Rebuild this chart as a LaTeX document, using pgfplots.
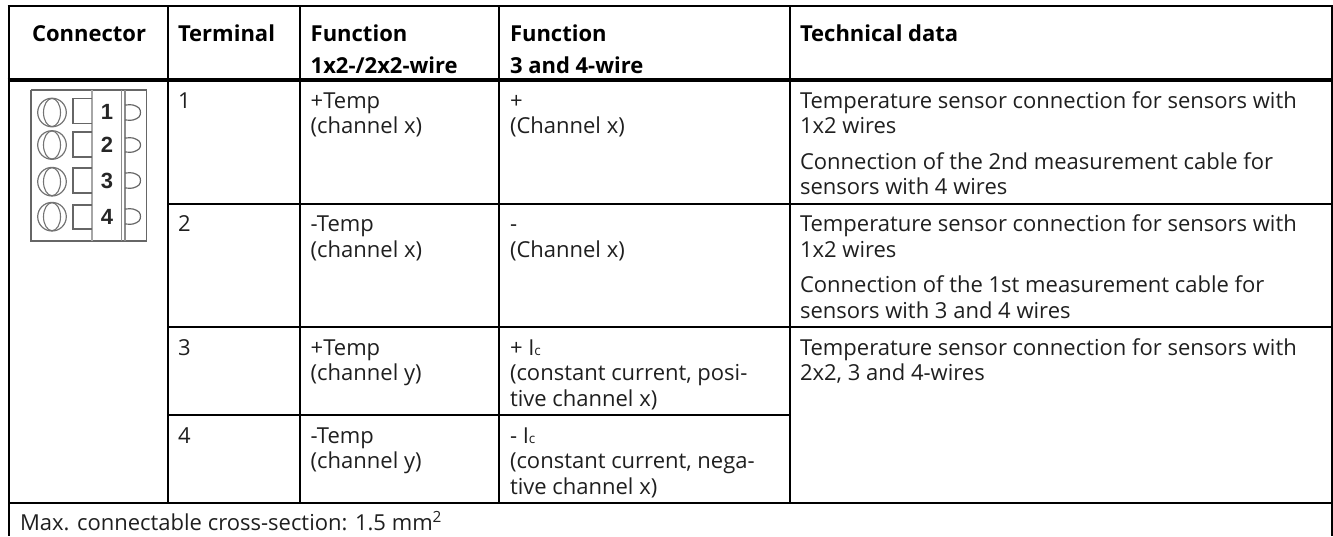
\documentclass[border=0pt]{standalone}
\usepackage{pgfplots}
\pgfplotsset{compat=1.18}
\usepackage{fontspec}
\setmainfont{Open Sans}
\newfontfamily\numfont{Liberation Sans}
\newcommand{\ft}{\fontsize{22}{25.5}\selectfont}
\newcommand{\smc}{{\fontsize{13.5}{13.5}\selectfont c}}
\tikzset{
  rl/.style={black, line width=2pt},
  ic/.style={color=black!60, line width=1.2pt},
  txt/.style={anchor=base west, inner sep=0pt, outer sep=0pt, text=black!88, font=\ft},
  hd/.style={anchor=base west, inner sep=0pt, outer sep=0pt, text=black, font=\ft\bfseries},
  num/.style={anchor=base, inner sep=0pt, outer sep=0pt, text=black!85, font=\numfont\fontsize{22}{22}\selectfont\bfseries},
}
\begin{document}
\begin{tikzpicture}
\path[use as bounding box] (0,0) rectangle (1333pt,536pt);
\begin{axis}[
  at={(0,0)}, anchor=south west,
  scale only axis, width=1333pt, height=536pt,
  xmin=0, xmax=1333, ymin=0, ymax=536, y dir=reverse,
  axis lines=none, clip=true,
  every axis plot/.append style={forget plot},
]
% table rules
\addplot[rl] coordinates {(7.5,6) (1332.7,6)};
\addplot[black, line width=4.5pt] coordinates {(7.5,80) (1332.7,80)};
\addplot[rl] coordinates {(8.5,6) (8.5,536)};
\addplot[rl] coordinates {(1331.7,6) (1331.7,536)};
\addplot[rl] coordinates {(168,6) (168,503)};
\addplot[rl] coordinates {(299.5,6) (299.5,503)};
\addplot[rl] coordinates {(499.3,6) (499.3,503)};
\addplot[rl] coordinates {(790,6) (790,503)};
\addplot[rl] coordinates {(168,204) (1332,204)};
\addplot[rl] coordinates {(168,327) (1332,327)};
\addplot[rl] coordinates {(168,415) (790,415)};
\addplot[rl] coordinates {(8,503) (1332,503)};
% connector icon
\addplot[ic] coordinates {(31,90) (146.7,90) (146.7,241) (31,241) (31,90)};
\addplot[color=black!35, line width=1.6pt] coordinates {(91.7,90) (91.7,241)};
\addplot[color=black!45, line width=1.4pt] coordinates {(121.7,90) (121.7,241)};
\addplot[color=black!45, line width=1.4pt] coordinates {(125,90) (125,241)};
\addplot[ic] coordinates {(91.7,98.7) (73,98.7) (73,123.7) (91.7,123.7)};
\addplot[ic] coordinates {(91.7,132) (73,132) (73,157) (91.7,157)};
\addplot[ic] coordinates {(91.7,168) (73,168) (73,193) (91.7,193)};
\addplot[ic] coordinates {(91.7,205) (73,205) (73,229) (91.7,229)};
\draw[black!55, line width=1.2pt] (axis cs:52,112.5) circle[radius=14.3pt];
\draw[black!55, line width=1.1pt] (axis cs:52,112.5) ellipse[x radius=8.5pt, y radius=14pt];
\draw[black!55, line width=1.2pt] (axis cs:52,145) circle[radius=14.3pt];
\draw[black!55, line width=1.1pt] (axis cs:52,145) ellipse[x radius=8.5pt, y radius=14pt];
\draw[black!55, line width=1.2pt] (axis cs:52,181.7) circle[radius=14.3pt];
\draw[black!55, line width=1.1pt] (axis cs:52,181.7) ellipse[x radius=8.5pt, y radius=14pt];
\draw[black!55, line width=1.2pt] (axis cs:52,216.7) circle[radius=14.3pt];
\draw[black!55, line width=1.1pt] (axis cs:52,216.7) ellipse[x radius=8.5pt, y radius=14pt];
\addplot[ic, smooth] coordinates {(125,105) (133,105) (139,108) (140.5,112.5) (139,117) (133,120) (125,120)};
\addplot[ic, smooth] coordinates {(125,138) (133,138) (139,141) (140.5,145) (139,149) (133,152) (125,152)};
\addplot[ic, smooth] coordinates {(125,173) (133,173) (139,176) (140.5,180.5) (139,185) (133,188) (125,188)};
\addplot[ic, smooth] coordinates {(125,209) (133,209) (139,212) (140.5,216.5) (139,221) (133,224) (125,224)};
\node[num] at (axis cs:107,119.5) {1};
\node[num] at (axis cs:107,152) {2};
\node[num] at (axis cs:107,188) {3};
\node[num] at (axis cs:107,224) {4};
% header
\node[hd] at (axis cs:32,41) {Connector};
\node[hd] at (axis cs:178,41) {Terminal};
\node[hd] at (axis cs:310.7,41) {Function};
\node[hd] at (axis cs:310.7,73) {1x2-/2x2-wire};
\node[hd] at (axis cs:510,41) {Function};
\node[hd] at (axis cs:510,73) {3 and 4-wire};
\node[hd] at (axis cs:800,41) {Technical data};
% rows
\node[txt] at (axis cs:178,108) {1};
\node[txt] at (axis cs:178,231.6) {2};
\node[txt] at (axis cs:178,355) {3};
\node[txt] at (axis cs:178,443) {4};
\node[txt] at (axis cs:310.7,108) {+Temp};
\node[txt] at (axis cs:310.7,133.5) {(channel x)};
\node[txt] at (axis cs:310.7,231.6) {-Temp};
\node[txt] at (axis cs:310.7,257) {(channel x)};
\node[txt] at (axis cs:310.7,355) {+Temp};
\node[txt] at (axis cs:310.7,380.7) {(channel y)};
\node[txt] at (axis cs:310.7,443) {-Temp};
\node[txt] at (axis cs:310.7,468.7) {(channel y)};
\node[txt] at (axis cs:510,108) {+};
\node[txt] at (axis cs:510,133.5) {(Channel x)};
\node[txt] at (axis cs:510,231.6) {-};
\node[txt] at (axis cs:510,257) {(Channel x)};
\node[txt] at (axis cs:510,355) {+ I\smc};
\node[txt] at (axis cs:510,380.7) {(constant current, posi-};
\node[txt] at (axis cs:510,406.2) {tive channel x)};
\node[txt] at (axis cs:510,443) {- I\smc};
\node[txt] at (axis cs:510,468.7) {(constant current, nega-};
\node[txt] at (axis cs:510,494.2) {tive channel x)};
\node[txt] at (axis cs:800,108) {Temperature sensor connection for sensors with};
\node[txt] at (axis cs:800,133.5) {1x2 wires};
\node[txt] at (axis cs:800,169) {Connection of the 2nd measurement cable for};
\node[txt] at (axis cs:800,194.5) {sensors with 4 wires};
\node[txt] at (axis cs:800,231.6) {Temperature sensor connection for sensors with};
\node[txt] at (axis cs:800,257) {1x2 wires};
\node[txt] at (axis cs:800,292.7) {Connection of the 1st measurement cable for};
\node[txt] at (axis cs:800,318) {sensors with 3 and 4 wires};
\node[txt] at (axis cs:800,355) {Temperature sensor connection for sensors with};
\node[txt] at (axis cs:800,380.7) {2x2, 3 and 4-wires};
\node[txt] at (axis cs:20,530) {Max. connectable cross-section: 1.5 mm\textsuperscript{2}};
\end{axis}
\end{tikzpicture}
\end{document}
